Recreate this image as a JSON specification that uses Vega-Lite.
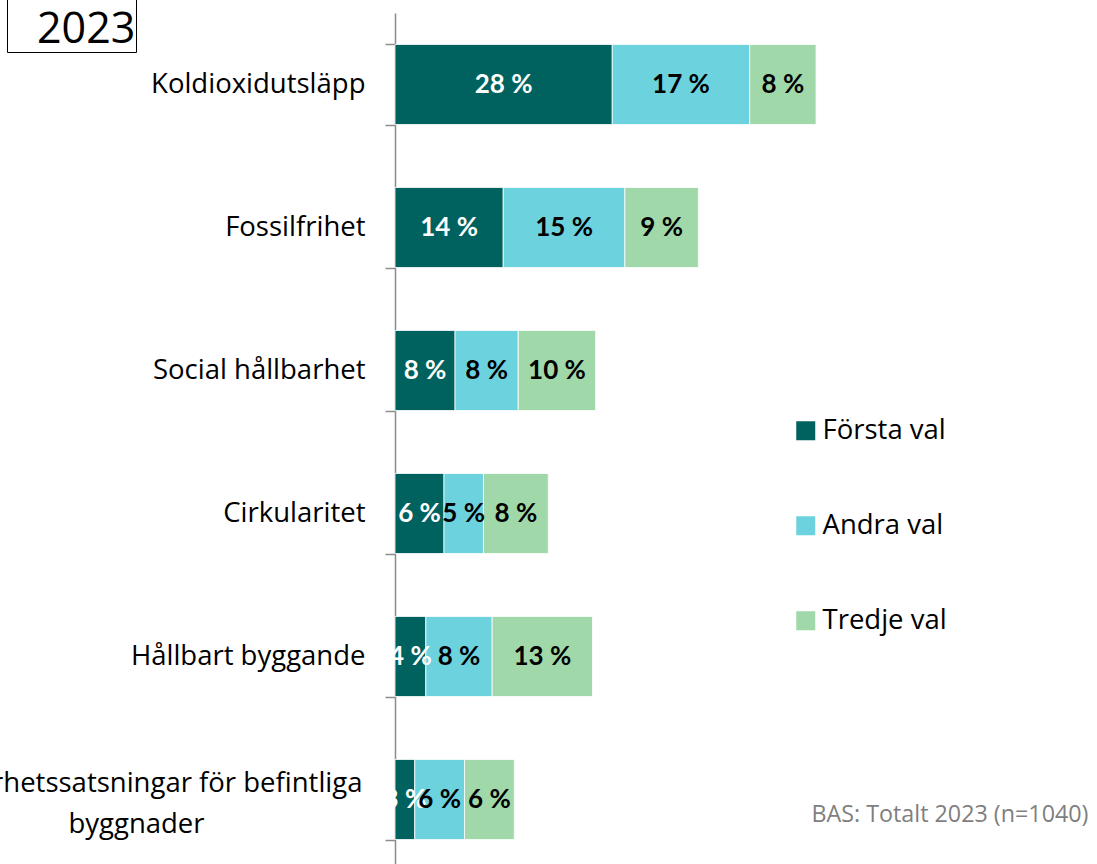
{
  "$schema": "https://vega.github.io/schema/vega-lite/v6.json",
  "autosize": {"type": "none"},
  "padding": {"left": 395, "top": 13, "right": 0, "bottom": 0},
  "width": 702,
  "height": 858,
  "background": "white",
  "config": {"view": {"stroke": null}, "font": "Open Sans"},
  "data": {"values": [
    {"omr": "Koldioxidutsläpp", "val": "Första val", "ord": 1, "andel": 27.5, "etikett": "28 %", "ar": "2023"},
    {"omr": "Koldioxidutsläpp", "val": "Andra val", "ord": 2, "andel": 17.4, "etikett": "17 %", "ar": "2023"},
    {"omr": "Koldioxidutsläpp", "val": "Tredje val", "ord": 3, "andel": 8.4, "etikett": "8 %", "ar": "2023"},
    {"omr": "Fossilfrihet", "val": "Första val", "ord": 1, "andel": 13.7, "etikett": "14 %", "ar": "2023"},
    {"omr": "Fossilfrihet", "val": "Andra val", "ord": 2, "andel": 15.4, "etikett": "15 %", "ar": "2023"},
    {"omr": "Fossilfrihet", "val": "Tredje val", "ord": 3, "andel": 9.3, "etikett": "9 %", "ar": "2023"},
    {"omr": "Social hållbarhet", "val": "Första val", "ord": 1, "andel": 7.6, "etikett": "8 %", "ar": "2023"},
    {"omr": "Social hållbarhet", "val": "Andra val", "ord": 2, "andel": 8.0, "etikett": "8 %", "ar": "2023"},
    {"omr": "Social hållbarhet", "val": "Tredje val", "ord": 3, "andel": 9.8, "etikett": "10 %", "ar": "2023"},
    {"omr": "Cirkularitet", "val": "Första val", "ord": 1, "andel": 6.2, "etikett": "6 %", "ar": "2023"},
    {"omr": "Cirkularitet", "val": "Andra val", "ord": 2, "andel": 5.0, "etikett": "5 %", "ar": "2023"},
    {"omr": "Cirkularitet", "val": "Tredje val", "ord": 3, "andel": 8.2, "etikett": "8 %", "ar": "2023"},
    {"omr": "Hållbart byggande", "val": "Första val", "ord": 1, "andel": 3.9, "etikett": "4 %", "ar": "2023"},
    {"omr": "Hållbart byggande", "val": "Andra val", "ord": 2, "andel": 8.4, "etikett": "8 %", "ar": "2023"},
    {"omr": "Hållbart byggande", "val": "Tredje val", "ord": 3, "andel": 12.7, "etikett": "13 %", "ar": "2023"},
    {"omr": "Hållbarhetssatsningar för befintliga byggnader", "val": "Första val", "ord": 1, "andel": 2.5, "etikett": "3 %", "ar": "2023"},
    {"omr": "Hållbarhetssatsningar för befintliga byggnader", "val": "Andra val", "ord": 2, "andel": 6.3, "etikett": "6 %", "ar": "2023"},
    {"omr": "Hållbarhetssatsningar för befintliga byggnader", "val": "Tredje val", "ord": 3, "andel": 6.3, "etikett": "6 %", "ar": "2023"}
  ]},
  "transform": [
    {"stack": "andel", "groupby": ["omr"], "sort": [{"field": "ord", "order": "ascending"}], "as": ["x0", "x1"]},
    {"calculate": "(datum.x0 + datum.x1) / 2", "as": "xmid"}
  ],
  "encoding": {
    "y": {
      "field": "omr", "type": "nominal",
      "sort": ["Koldioxidutsläpp", "Fossilfrihet", "Social hållbarhet", "Cirkularitet", "Hållbart byggande", "Hållbarhetssatsningar för befintliga byggnader"],
      "scale": {"paddingInner": 0.44, "paddingOuter": 0.22},
      "axis": {
        "title": null,
        "orient": "left",
        "domainColor": "#8c8c8c", "domainWidth": 1.5,
        "tickColor": "#8c8c8c", "tickWidth": 1.5, "tickSize": 10, "tickBand": "extent",
        "labelFont": "Open Sans", "labelFontSize": 27.5, "labelColor": "#000000",
        "labelLimit": 0, "labelLineHeight": 41,
        "labelPadding": {"condition": {"test": "datum.value == 'Hållbarhetssatsningar för befintliga byggnader'", "value": 249}, "value": 20},
        "labelAlign": {"condition": {"test": "datum.value == 'Hållbarhetssatsningar för befintliga byggnader'", "value": "center"}, "value": "right"},
        "labelOffset": {"condition": {"test": "datum.value == 'Hållbarhetssatsningar för befintliga byggnader'", "value": -16}, "value": 0},
        "labelExpr": "datum.label == 'Hållbarhetssatsningar för befintliga byggnader' ? ['Hållbarhetssatsningar för befintliga', 'byggnader'] : datum.label"
      }
    }
  },
  "layer": [
    {
      "mark": {"type": "bar", "stroke": "white", "strokeWidth": 0.8},
      "encoding": {
        "x": {"field": "x0", "type": "quantitative", "scale": {"domain": [0, 88.86], "nice": false, "zero": true},
          "axis": {"orient": "bottom", "labels": false, "ticks": false, "domain": false, "grid": false,
            "title": "BAS: Totalt 2023 (n=1040)", "titleX": 693, "titleY": -50, "titleAlign": "right", "titleBaseline": "alphabetic",
            "titleFont": "Open Sans", "titleFontSize": 23.3, "titleFontWeight": "normal", "titleColor": "#7f7f7f"}},
        "x2": {"field": "x1"},
        "color": {
          "field": "val", "type": "nominal",
          "scale": {"domain": ["Första val", "Andra val", "Tredje val"], "range": ["#00625f", "#6cd2de", "#a0d8a9"]},
          "legend": {"title": null, "orient": "none", "legendX": 397, "legendY": 404, "padding": 0,
            "symbolType": "square", "symbolSize": 361, "symbolStrokeWidth": 0, "symbolOpacity": 1,
            "labelFont": "Open Sans", "labelFontSize": 27.5, "labelColor": "#000000", "labelOffset": 3, "rowPadding": 66}
        },
        "opacity": {
          "field": "ar", "type": "ordinal",
          "scale": {"range": [1, 1]},
          "legend": {"title": null, "orient": "none", "legendX": -388, "legendY": -50, "padding": 0,
            "strokeColor": "#000000", "symbolSize": 0, "symbolStrokeWidth": 0, "symbolOpacity": 0,
            "labelFont": "Open Sans", "labelFontSize": 43, "labelColor": "#000000", "labelOffset": -13,
            "labelLineHeight": 43,
            "labelExpr": "['', datum.label]"}
        }
      }
    },
    {
      "mark": {"type": "text", "font": "Lato", "fontSize": 26, "fontWeight": "bold", "baseline": "middle", "align": "center"},
      "encoding": {
        "x": {"field": "xmid", "type": "quantitative"},
        "text": {"field": "etikett"},
        "color": {"condition": {"test": "datum.val === 'Första val'", "value": "#ffffff"}, "value": "#000000"}
      }
    }
  ]
}
